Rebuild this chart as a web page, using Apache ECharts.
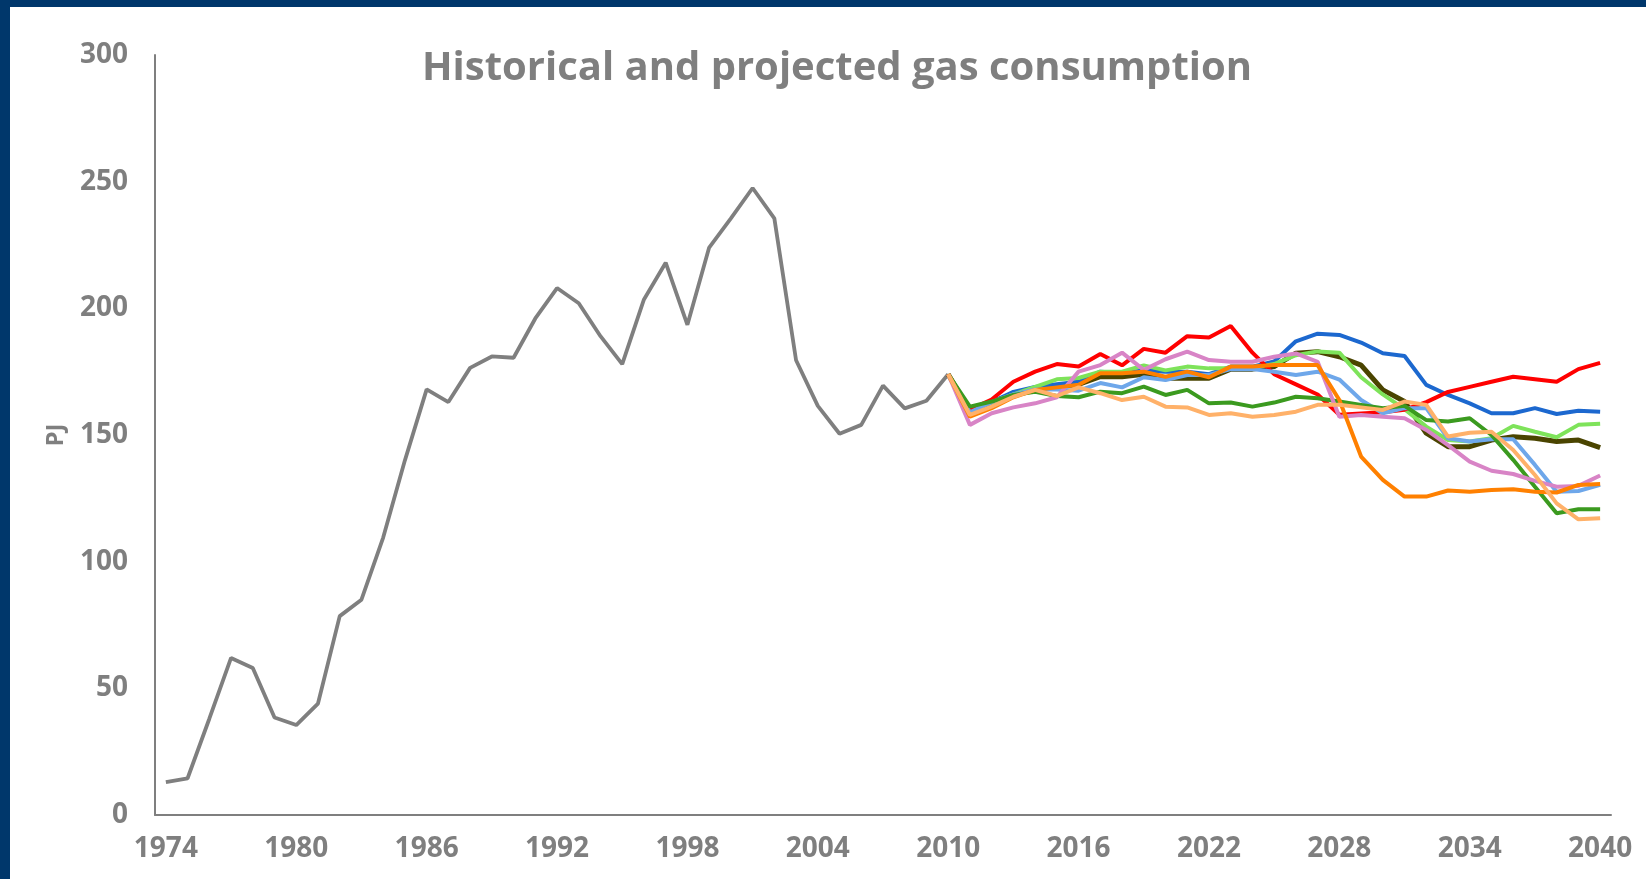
<!doctype html>
<html lang="en">
<head>
    <meta charset="utf-8">
    <title>Historical and projected gas consumption</title>
    <script src="https://cdn.jsdelivr.net/npm/echarts@6/dist/echarts.min.js"></script>
    <style>
        html, body { margin: 0; padding: 0; }
        body { width: 1646px; height: 879px; background: #00376b; position: relative; overflow: hidden; }
        #main { position: absolute; left: 10px; top: 7px; width: 1636px; height: 872px; background: #ffffff; }
    </style>
</head>
<body>
    <div id="main"></div>

    <script type="text/javascript">
    // years on the x axis
    var years = [];
    for (var y = 1974; y <= 2040; y++) years.push(String(y));

    // historical consumption 1974-2010, PJ
    var historical = [13, 14.5, 38, 62, 58, 38.5, 35.5, 44, 78.5, 85, 109.5, 140, 168, 163, 176.5, 181, 180.5,
        196, 208, 202, 189, 178, 203.5, 218, 193.5, 224, 235.5, 247.5, 235.5, 179.5, 161.5, 150.5, 154, 169.5,
        160.5, 163.5, 174];

    // projections 2010-2040, PJ (one list per scenario)
    var red = [174, 160, 164, 171, 175, 178, 177, 182, 177.5, 184, 182.5, 189, 188.5, 193, 182.5, 174, 170, 166,
        158, 158.5, 159, 160, 163, 167, 169, 171, 173, 172, 171, 176, 178.5];
    var blue = [174, 160, 163, 167, 169, 170, 171, 175, 174.5, 175.5, 175, 175, 174, 177, 177, 179, 187, 190,
        189.5, 186.5, 182.3, 181.2, 169.8, 165.8, 162.5, 158.6, 158.6, 160.6, 158.3, 159.6, 159.2];
    var lightGreen = [174, 160, 163, 166, 169, 172, 172.5, 175, 175, 177.5, 175.5, 177, 176.3, 176.3, 176.5, 178,
        181.5, 183, 182.5, 172.8, 166, 160.2, 153.3, 148, 147.4, 148.7, 153.6, 151.3, 149.1, 154, 154.4];
    var olive = [174, 159, 163, 166, 168, 169, 170, 173, 173, 174, 172.4, 172.4, 172.4, 176, 176, 177, 182.3,
        182.9, 180.9, 177.6, 167.8, 163.2, 150.7, 145.4, 145.4, 148, 149.3, 148.7, 147.4, 148, 145];
    var lightBlue = [174, 159, 163, 166, 168, 168, 167.5, 170.5, 168.8, 172.8, 171.7, 173.7, 173.7, 176, 176,
        175, 173.7, 175, 171.9, 163.8, 158.6, 160.6, 160.6, 148.7, 147.4, 148.3, 148.3, 138.2, 127.6, 127.9, 130.3];
    var darkGreen = [174, 161.2, 163.2, 165.8, 167.1, 165.4, 164.9, 167.1, 166.5, 169.1, 165.8, 167.8, 162.5,
        162.8, 161.2, 162.8, 165.1, 164.5, 163.2, 161.9, 160.6, 161.5, 155.9, 155.3, 156.6, 150, 140.2, 129.6,
        119.1, 120.7, 120.7];
    var pink = [174, 154, 158.6, 160.9, 162.5, 164.9, 175, 177.6, 182.5, 175.7, 179.9, 182.9, 179.6, 178.9,
        178.9, 180.9, 182.2, 178.9, 157.2, 157.9, 157.2, 156.6, 152, 146, 139.5, 135.9, 134.6, 131.9, 129.6,
        129.9, 134];
    var orange = [174, 157.2, 160.6, 164.9, 167.8, 168.8, 169.8, 174.4, 174.4, 175, 173, 175, 172.8, 177, 177,
        177.6, 177.6, 177.6, 163.8, 141.5, 132.3, 125.7, 125.7, 128.1, 127.6, 128.3, 128.6, 127.6, 127.3, 130.3,
        130.7];
    var lightOrange = [174, 157.9, 161.2, 165.1, 167.8, 165.4, 168.8, 166.5, 163.8, 165.1, 161.2, 160.9, 157.9,
        158.6, 157.2, 157.9, 159.2, 161.9, 161.9, 160.9, 159.9, 163.2, 161.9, 149.4, 150.9, 151.3, 144.1, 134.2,
        123, 116.7, 117.1];

    var grey = '#7f7f7f';

    // pad the projections with blanks before 2010
    function projected(values) {
        var out = [];
        for (var i = 0; i < years.length - values.length; i++) out.push(null);
        return out.concat(values);
    }

    function line(name, data, color, width) {
        return {
            name: name,
            type: 'line',
            data: data,
            symbol: 'none',
            smooth: false,
            lineStyle: { color: color, width: width },
            itemStyle: { color: color }
        };
    }

    var myChart = echarts.init(document.getElementById('main'));

    var option = {
        animation: false,
        textStyle: { fontFamily: 'Open Sans' },
        title: {
            text: 'Historical and projected gas consumption',
            left: 822,
            top: 37,
            textAlign: 'center',
            textStyle: { color: grey, fontSize: 40, fontWeight: 'bold', fontFamily: 'Open Sans' }
        },
        grid: { left: 145, right: 35, top: 48, bottom: 64 },
        xAxis: {
            type: 'category',
            data: years,
            boundaryGap: true,
            axisLine: { lineStyle: { color: grey, width: 2 } },
            axisTick: { show: false },
            axisLabel: {
                interval: 5,
                color: grey,
                fontSize: 28,
                fontWeight: 'bold',
                margin: 20
            }
        },
        yAxis: {
            type: 'value',
            min: 0,
            max: 300,
            interval: 50,
            name: 'PJ',
            nameLocation: 'middle',
            nameRotate: 90,
            nameGap: 87,
            nameTextStyle: { color: grey, fontSize: 24, fontWeight: 'bold' },
            axisLine: { show: true, lineStyle: { color: grey, width: 2 } },
            axisTick: { show: false },
            splitLine: { show: false },
            axisLabel: {
                color: grey,
                fontSize: 28,
                fontWeight: 'bold',
                margin: 27
            }
        },
        series: [
            line('Historical', historical, grey, 3.8),
            line('Scenario A', projected(olive), '#4a4400', 5),
            line('Scenario B', projected(blue), '#1c68cf', 4),
            line('Scenario C', projected(lightGreen), '#7ee35a', 4),
            line('Scenario D', projected(red), '#ff0000', 4),
            line('Scenario E', projected(lightBlue), '#6ea7ea', 4),
            line('Scenario F', projected(darkGreen), '#3b9a1f', 4),
            line('Scenario G', projected(pink), '#d884c6', 4),
            line('Scenario H', projected(orange), '#ff8000', 4),
            line('Scenario I', projected(lightOrange), '#ffb169', 4)
        ]
    };

    myChart.setOption(option);
    </script>
</body>
</html>
